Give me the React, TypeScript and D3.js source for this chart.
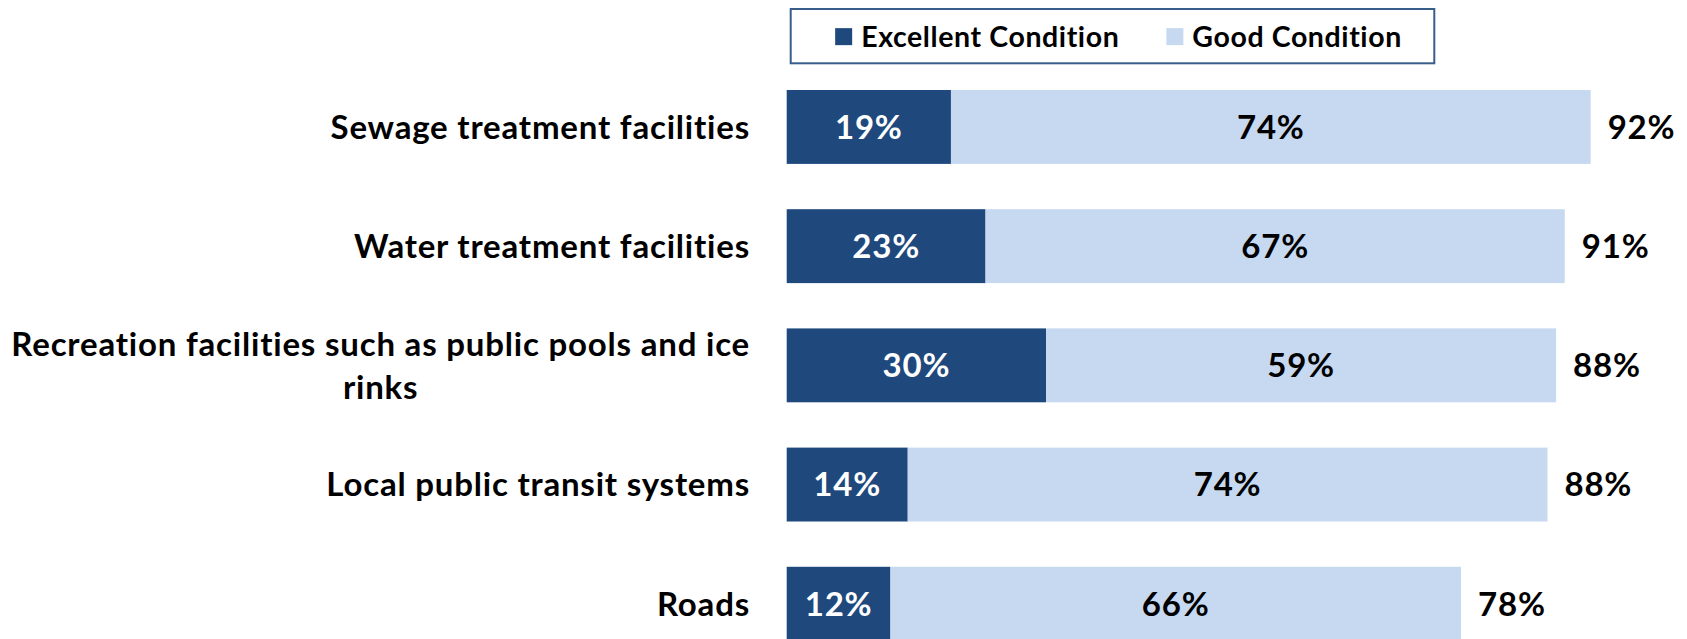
import React, { useEffect, useRef } from "react";
import * as d3 from "d3";

const categories = [
  "Sewage treatment facilities",
  "Water treatment facilities",
  "Recreation facilities such as public pools and ice rinks",
  "Local public transit systems",
  "Roads",
];
const excellent = [19, 23, 30, 14, 12];
const good = [74, 67, 59, 74, 66];
const totals = [92, 91, 88, 88, 78];
const seriesNames = ["Excellent Condition", "Good Condition"];

const DARK = "#1F497D";
const LIGHT = "#C6D9F1";
const FONT = "Lato, 'Open Sans', sans-serif";

const App = () => {
  const ref = useRef<SVGSVGElement>(null);

  useEffect(() => {
    const width = 1687;
    const height = 639;
    const svg = d3.select(ref.current);
    svg.selectAll("*").remove();
    svg.attr("viewBox", `0 0 ${width} ${height}`);

    const labelSize = 33;
    const labelSpacing = 0.8;
    const legendSize = 28.5;
    const legendSpacing = 0.6;
    const barLeft = 786.7;

    const x = d3.scaleLinear().domain([0, 100]).range([barLeft, barLeft + 864.5]);
    const y = d3
      .scaleBand()
      .domain(categories)
      .range([90, 640.7])
      .paddingInner(0.38)
      .paddingOuter(0);

    const g = svg.append("g");

    const rows = categories.map((c, i) => ({
      cat: c,
      ex: excellent[i],
      gd: good[i],
      tot: totals[i],
    }));

    // dark segments
    g.selectAll("rect.ex")
      .data(rows)
      .join("rect")
      .attr("class", "ex")
      .attr("x", x(0))
      .attr("y", (d) => y(d.cat)!)
      .attr("width", (d) => x(d.ex) - x(0))
      .attr("height", y.bandwidth())
      .attr("fill", DARK);

    // light segments
    g.selectAll("rect.gd")
      .data(rows)
      .join("rect")
      .attr("class", "gd")
      .attr("x", (d) => x(d.ex))
      .attr("y", (d) => y(d.cat)!)
      .attr("width", (d) => x(d.ex + d.gd) - x(d.ex))
      .attr("height", y.bandwidth())
      .attr("fill", LIGHT);

    const txt = (sel: any) =>
      sel
        .attr("font-family", FONT)
        .attr("font-weight", 700)
        .attr("font-size", labelSize)
        .attr("letter-spacing", labelSpacing)
        .attr("dy", "0.36em");

    g.selectAll("text.exl")
      .data(rows)
      .join("text")
      .attr("class", "exl")
      .attr("x", (d) => (x(0) + x(d.ex)) / 2)
      .attr("y", (d) => y(d.cat)! + y.bandwidth() / 2)
      .attr("text-anchor", "middle")
      .attr("fill", "#fff")
      .call(txt)
      .text((d) => `${d.ex}%`);

    g.selectAll("text.gdl")
      .data(rows)
      .join("text")
      .attr("class", "gdl")
      .attr("x", (d) => (x(d.ex) + x(d.ex + d.gd)) / 2)
      .attr("y", (d) => y(d.cat)! + y.bandwidth() / 2)
      .attr("text-anchor", "middle")
      .attr("fill", "#000")
      .call(txt)
      .text((d) => `${d.gd}%`);

    g.selectAll("text.tot")
      .data(rows)
      .join("text")
      .attr("class", "tot")
      .attr("x", (d) => x(d.ex + d.gd) + 17)
      .attr("y", (d) => y(d.cat)! + y.bandwidth() / 2)
      .attr("text-anchor", "start")
      .attr("fill", "#000")
      .call(txt)
      .text((d) => `${d.tot}%`);

    // category labels, wrapped and centred as a block right-aligned to the bars
    const labelRight = 750;
    const maxWidth = 780;
    const lineHeight = 43;
    categories.forEach((c) => {
      const words = c.split(" ");
      const probe = g
        .append("text")
        .attr("font-family", FONT)
        .attr("font-weight", 700)
        .attr("font-size", labelSize)
        .attr("letter-spacing", labelSpacing);
      const lines: string[] = [];
      let cur = "";
      words.forEach((w) => {
        const test = cur ? cur + " " + w : w;
        probe.text(test);
        if ((probe.node() as SVGTextElement).getComputedTextLength() > maxWidth && cur) {
          lines.push(cur);
          cur = w;
        } else cur = test;
      });
      lines.push(cur);
      const widths = lines.map((l) => {
        probe.text(l);
        return (probe.node() as SVGTextElement).getComputedTextLength();
      });
      probe.remove();
      const blockW = d3.max(widths)!;
      const cx = labelRight - blockW / 2;
      const cy = y(c)! + y.bandwidth() / 2;
      lines.forEach((l, k) => {
        g.append("text")
          .attr("x", lines.length > 1 ? cx : labelRight)
          .attr("y", cy + (k - (lines.length - 1) / 2) * lineHeight)
          .attr("text-anchor", lines.length > 1 ? "middle" : "end")
          .attr("fill", "#000")
          .call(txt)
          .text(l);
      });
    });

    // legend
    const legend = svg.append("g");
    const box = { x: 790.7, y: 9, w: 643.6, h: 54.3 };
    legend
      .append("rect")
      .attr("x", box.x)
      .attr("y", box.y)
      .attr("width", box.w)
      .attr("height", box.h)
      .attr("fill", "#fff")
      .attr("stroke", "#385D8A")
      .attr("stroke-width", 2);

    const items = legend.append("g");
    let cx = 0;
    const colors = [DARK, LIGHT];
    seriesNames.forEach((name, i) => {
      items
        .append("rect")
        .attr("x", cx)
        .attr("y", -8.5)
        .attr("width", 17)
        .attr("height", 17)
        .attr("fill", colors[i]);
      const t = items
        .append("text")
        .attr("x", cx + 26)
        .attr("y", 0)
        .attr("dy", "0.36em")
        .attr("font-family", FONT)
        .attr("font-weight", 700)
        .attr("font-size", legendSize)
        .attr("letter-spacing", legendSpacing)
        .attr("fill", "#000")
        .text(name);
      const w = (t.node() as SVGTextElement).getComputedTextLength();
      cx += 26 + w + 47;
    });
    const itemsW = cx - 47;
    items.attr(
      "transform",
      `translate(${box.x + box.w / 2 + 6 - itemsW / 2},${box.y + box.h / 2 + 0.5})`
    );
  }, []);

  return (
    <div>
      <svg
        ref={ref}
        width={1687}
        height={639}
        style={{ position: "absolute", left: 0, top: 0, background: "#fff" }}
      />
    </div>
  );
};

export default App;
